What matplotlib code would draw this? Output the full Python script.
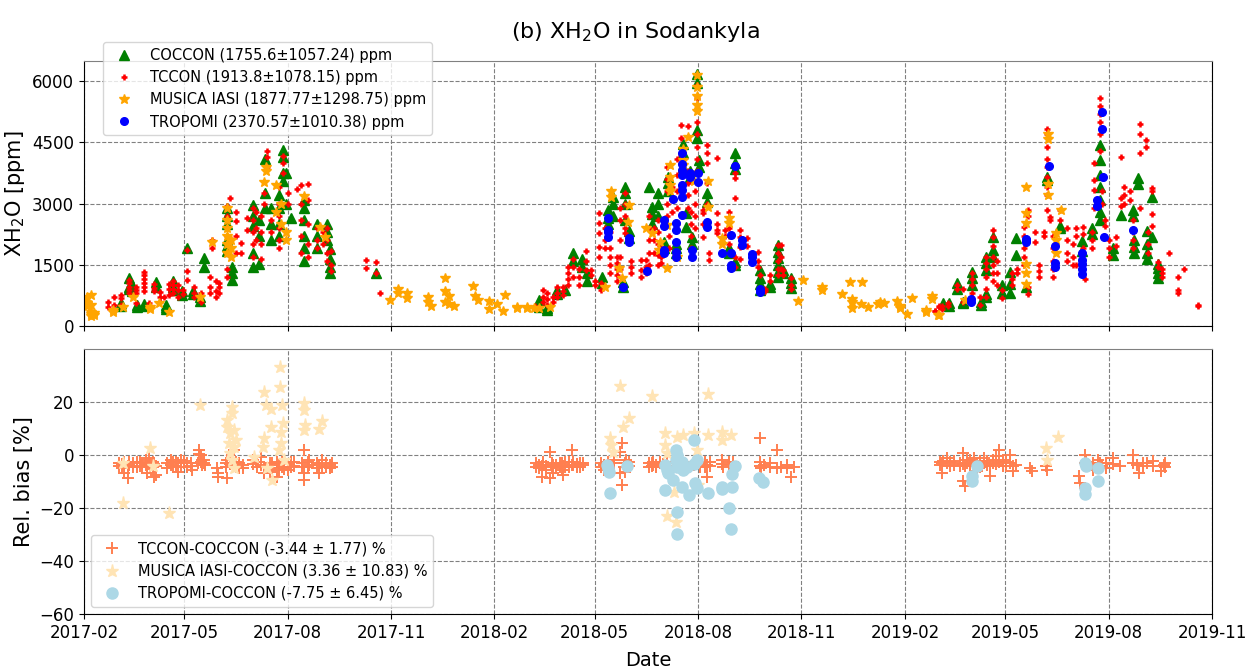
import matplotlib
matplotlib.use('Agg')
import matplotlib.pyplot as plt
import matplotlib.dates as mdates
import pandas as pd

# day numbers are counted from the start of the record
start = pd.Timestamp('2017-02-01')

# --- top panel: XH2O [ppm] ---
coccon_day = [33, 40, 43, 47, 53, 64, 73, 79, 87, 92, 97, 103, 107, 127, 132, 150, 156, 161,
              166, 173, 177, 180, 184, 196, 207, 216, 219, 260,
              405, 412, 421, 428, 435, 443, 447, 461, 466, 470, 479, 481, 485, 502, 505, 510,
              516, 519, 526, 533, 535, 539, 541, 545, 547, 554, 574, 579, 601, 610, 617, 622, 629,
              764, 769, 776, 782, 790, 798, 802, 808, 816, 823, 829, 838, 856, 868, 887, 896,
              903, 915, 922, 933, 934, 937, 945, 950, 955]
coccon_xh2o = [[500, 560], [1170, 960, 900], [1000, 850], [470, 520], [500, 540], [1090, 960],
               [470, 420, 520], [1110, 950, 880], [860, 760], [1910], [860, 780], [720, 620],
               [1660, 1450], [2900, 2700, 2500, 2100, 1950, 1850], [1450, 1300, 1130],
               [2960, 2700, 2450, 1800, 1450], [2600, 2200, 1530], [4100, 3250, 2900],
               [2900, 2500, 2100], [3200, 2900, 2500, 2200], [4310, 4150, 3750, 3550], [3740, 3000],
               [2640], [3080, 2900, 2600, 2200, 1900, 1600], [2500, 2200, 1900], [2500, 2300, 2100],
               [1880, 1650, 1450, 1300], [1300],
               [640, 470], [390, 450], [880, 780], [880], [1790, 1600], [1640, 1450], [1300, 1100],
               [1190, 1050], [2840, 2650, 2500], [3170, 3000, 2700], [1070, 960],
               [3410, 3250, 3000, 2600], [2340, 2150], [3410], [2920, 2750, 2500], [3250, 3000, 2700],
               [2050, 1900], [3660, 3500, 3300], [1920, 2000, 1800], [4470, 4250, 3900], [2760, 2430],
               [3800, 3650], [2180, 2000], [6190, 5950, 4800, 4600], [4070, 3900], [3250, 3050],
               [1900, 1800], [4240, 3990, 3850, 1570, 1500], [1370, 1170, 1040, 880], [1040, 960],
               [1980, 1820, 1660, 1500, 1330, 1200], [1370, 1300], [1170, 1050, 920],
               [560], [560, 500], [1045, 900], [600, 560], [1330, 1170, 1000], [520, 600],
               [1700, 1550, 1380, 780, 700], [2190, 1860, 1700], [1000, 810], [1330, 1040, 820],
               [2150, 1740], [960], [3660, 3580], [2460, 2400], [2080, 1850], [2260, 2400],
               [4440, 4080, 3700, 3400, 3100, 2800, 2600], [1910, 1740], [2730], [2840, 2700],
               [2110, 1940, 1800], [3640, 3490], [2330, 2000, 1790, 1650], [3170, 2190],
               [1530, 1420, 1300, 1170]]

tccon_day = [21, 27, 33, 40, 46, 53, 58, 62, 68, 71, 76, 79, 84, 88, 92, 98, 104, 112, 114, 117,
             120, 127, 130, 135, 140, 145, 150, 153, 157, 160, 163, 166, 173, 177, 181, 189, 193,
             199, 207, 213, 216, 220, 251, 260, 263,
             401, 408, 412, 417, 421, 426, 430, 435, 440, 446, 451, 454, 458, 460, 463, 468, 474,
             477, 481, 486, 495, 500, 502, 507, 510, 513, 518, 520, 523, 527, 531, 537, 540, 543,
             545, 550, 554, 556, 563, 570, 574, 579, 583, 590, 599, 601, 606, 610, 617, 620, 622, 629,
             757, 760, 763, 768, 776, 782, 790, 797, 802, 808, 812, 816, 825, 830, 836, 839, 846,
             849, 854, 856, 859, 862, 868, 874, 879, 882, 888, 890, 896, 898, 903, 905, 908, 911,
             918, 922, 925, 930, 933, 939, 944, 946, 950, 955, 959, 965, 973, 978, 991]
tccon_xh2o = [[600, 470], [720, 510], [770, 680, 520], [1130, 1050, 960, 880, 800],
              [960, 880, 800, 560], [1330, 1250, 1150, 1050, 950, 850], [560, 480], [1040, 930, 850],
              [840, 720, 600], [720], [1040, 900, 750], [1100, 1000, 900, 800], [1000, 870, 720],
              [880, 780], [1860, 1340, 1130], [950, 800, 700], [800, 600], [1200, 950, 800],
              [2100, 1900], [1100, 850, 700], [1050, 950, 800],
              [2950, 2700, 2400, 2200, 2000, 1800, 1400, 1200], [3130], [2800, 2570, 2200, 1800],
              [2040, 1800], [2640, 2350], [2900, 2600, 2300, 2000, 1700], [2800, 2400, 2100],
              [2700, 2300, 2000, 1650], [3250, 3000], [4300, 4150, 3900], [2600, 2300],
              [3400, 3000, 2700, 2400, 2100, 1900], [4180, 4000, 3750], [3250, 3000], [3370],
              [3450, 3000, 2600, 2200, 1800], [3490, 3100, 2500, 2000, 1700], [2400, 2100, 1900],
              [2300, 2000], [2400, 2100, 1800, 1600], [1850, 1500, 1350], [1620, 1420], [1570, 1300],
              [810],
              [500, 430], [880, 720, 600], [800, 650, 520], [720, 600], [960, 800, 700],
              [960, 850, 750], [1450, 1300, 1150, 1000], [1640, 1450, 1200], [1400, 1200, 1000],
              [1840, 1600, 1370], [1370, 1250], [1100, 1000], [2760, 2515, 2270, 1940, 1700],
              [880, 1050], [2400, 2100, 1900], [2300, 1900, 1700, 1500, 1300],
              [1700, 1550, 1400, 1250, 1100], [2900, 2600, 2100, 1700, 1400],
              [3250, 3000, 2700, 2400, 2270], [1600, 1450, 1300], [1620, 1370, 1200],
              [1620, 1450, 1300], [2700, 2400, 2100, 1800, 1500], [2400, 2100, 1800],
              [2600, 2300, 2000, 1750, 1500], [1900, 1700, 1550], [3900, 3600, 3300, 3000, 2700],
              [2200, 1900], [3400, 3100, 2800], [4100, 3700, 3300, 2900, 2500],
              [4920, 4600, 4200, 3800, 3400], [4900, 3800, 3500, 3200, 2900],
              [2800, 2500, 2200, 1900, 1700], [3300, 3000, 2700, 2400],
              [5900, 5600, 5300, 5000, 4700, 4400, 4100, 3800], [2850, 2760, 2500, 2190],
              [4430, 4230, 3990, 3500, 3000], [1780, 1630], [4110, 2760, 2500, 2350, 2270],
              [2350, 2200], [2800, 2400, 2200, 2000, 1800], [3740, 3620, 3130, 1690, 1450],
              [2360, 2190, 1940, 1650], [2150, 1950], [1810, 1600, 1450], [1250, 900, 840],
              [910, 850], [1250, 1100], [1980, 1800, 1600, 1400, 1250], [1980, 1700, 1400],
              [1370, 1250], [1170, 1000, 900],
              [370, 360], [460, 490], [500, 420], [560, 480], [1000, 900], [900, 600],
              [1300, 1150, 1000, 800], [700, 520], [1700, 1550, 1400, 1200, 900, 700],
              [2350, 2190, 1950, 1700, 1500, 1300, 1100], [1600, 1300, 1000], [890, 690],
              [1300, 1150, 1000], [1400, 1300], [2420, 2200, 1900, 1700, 1500],
              [2840, 2700, 960, 790], [2300, 2050], [1500, 1350, 1200], [2300, 2200],
              [4840, 4710, 4390, 4100, 3900, 3660, 3410, 3210, 2840], [2680, 2600],
              [2200, 1900, 1600, 1400, 1200], [2600, 2840], [2400, 2100, 1800, 1600],
              [2000, 1700, 1500], [2400, 2200, 1500], [2430, 2250, 1920, 1510], [1160],
              [2300, 2100, 1900], [3340, 3590, 4000, 2900], [5580, 5400, 5200, 5010, 4700, 4300],
              [3300, 3000], [2600, 2450], [2100, 1900, 1700], [2170, 1950], [4150, 3140, 2950],
              [3400, 3200, 3000], [3300, 3100], [2600, 2300, 2100, 1900], [4960, 4710, 4230, 2900],
              [4560, 4400], [2300, 2000, 1800], [3390, 3300, 2740, 2460], [1570, 1450],
              [1400, 1300, 1200], [1790], [1190, 880, 800], [1390], [490, 520]]

iasi_day = [3, 6, 9, 26, 35, 44, 59, 67, 76, 103, 114, 127, 131, 160, 162, 171, 175, 180, 196,
            210, 214, 272, 279, 287, 306, 309, 321, 325, 329, 346, 348, 350, 360, 367, 373, 374,
            385, 394, 400, 405, 414, 463, 469, 476, 478, 484, 485, 500, 505, 511, 512, 518, 521,
            527, 533, 537, 542, 545, 555, 567, 574, 635, 639, 656, 674, 681, 683, 691, 692, 697,
            706, 708, 711, 723, 726, 732, 736, 749, 754, 759, 760, 783, 838, 857, 864, 869]
iasi_xh2o = [[560, 720, 480], [350, 300, 250, 520, 760], [280, 330], [350, 400], [465], [710],
             [465, 420], [563], [343], [710], [2060], [2900, 2600, 2400, 2200, 2000, 1800],
             [2100, 1900, 1700], [3530], [3900, 3800], [3450, 2800], [3000, 2500], [2100, 2300],
             [3180], [2430], [2180], [640], [900, 810], [810, 680], [710, 580], [490],
             [1175, 860, 580], [735, 530], [500], [980], [735], [640], [610, 420], [550], [365],
             [770], [470, 440], [470, 440], [440], [440], [470], [960], [3300, 3170], [1420],
             [1170], [2560], [2960], [2400], [2270], [1870], [2050], [2480, 1420],
             [3950, 3660, 3460, 3300], [1700], [4350, 4070, 3950], [4630], [3550],
             [6160, 5870, 5630, 5430, 5260], [3550, 2920], [2150, 2020], [2640, 2520], [620],
             [1130], [960, 880], [780], [1090], [660, 580, 450], [530], [1090], [470], [530],
             [590], [560], [620], [500, 450], [300], [690], [390, 350], [730, 660], [280], [270],
             [630], [3410, 2760, 2520, 1530, 1290, 1040], [4710, 4590, 3490, 3210],
             [2280, 2120, 1780], [2840]]

tropomi_day = [466, 479, 485, 501, 516, 524, 526, 532, 539, 541, 546, 554, 567, 575, 579, 585,
               594, 601, 789, 838, 858, 863, 887, 901, 905, 906, 907, 933]
tropomi_xh2o = [[2650, 2310, 2350, 2180], [960], [2150, 2060], [1355], [2600, 2440, 1860, 1780],
                [3120], [2520, 2350, 2050, 1820, 1700],
                [4230, 3980, 3820, 3700, 3450, 3340, 3170, 2720], [3750, 3660], [1860, 1700],
                [3750, 3540], [2560, 2430], [1780], [2230, 1780, 1490, 1420], [3930], [2110, 1990],
                [1760, 1680, 1580], [840, 910], [600, 650], [2140, 2100, 2050], [3930],
                [1960, 1550, 1450], [1800, 1630, 1510, 1390, 1270], [3100, 2940], [4840, 5250],
                [3660], [2190], [2350]]

# --- bottom panel: relative bias [%] ---
tccon_bias_day = [31, 34, 36, 39, 40, 44, 47, 50, 52, 55, 56, 58, 59, 61, 62, 64, 74, 77, 79, 82,
                  84, 86, 89, 92, 95, 96, 101, 102, 104, 105, 107, 108, 118, 119, 126, 127, 130,
                  133, 135, 138, 141, 150, 154, 157, 160, 165, 167, 172, 173, 176, 178, 181, 184,
                  187, 194, 196, 199, 200, 207, 209, 212, 215, 219, 221,
                  402, 405, 407, 408, 411, 414, 416, 417, 420, 423, 425, 426, 428, 431, 434, 435,
                  438, 441, 444, 460, 462, 466, 471, 477, 478, 480, 481, 482, 485, 502, 505, 506,
                  509, 512, 515, 518, 524, 527, 530, 542, 548, 552, 554, 557, 567, 568, 574, 577,
                  601, 602, 605, 610, 616, 620, 625, 629, 631,
                  761, 763, 764, 767, 770, 774, 779, 782, 783, 785, 788, 791, 794, 797, 800, 803,
                  806, 808, 811, 814, 817, 820, 823, 826, 829, 841, 843, 855, 856, 885, 886, 890,
                  891, 894, 897, 902, 903, 905, 909, 915, 921, 933, 936, 938, 942, 945, 951, 958,
                  960, 961]
tccon_bias = [[-4.2, -3.0], [-5.0, -3.5], [-6.9, -2.8], [-8.8, -4.0], [-3.8, -2.5], [-3.1, -4.5],
              [-4.4, -2.6], [-2.5, -4.0], [-4.4, -3.0], [-1.9, -3.6], [-6.9, -4.0], [-1.3, -3.5],
              [-3.1, -4.6], [-4.4, -2.6], [-8.2, -3.5], [-7.5, -4.2], [-3.1, -4.8], [-1.9, -3.6],
              [-4.4, -2.8], [-2.5, -4.0], [-6.3, -3.2], [-1.9, -4.4], [-3.1, -2.4], [-4.4, -3.0],
              [-3.1, -4.2], [-5.7], [-3.1], [1.9, 0.5], [0.0, -2.5], [-1.9, -3.8], [-3.1, -2.0],
              [-3.8], [-5.0], [-6.9, -8.2], [-3.1, -4.4], [-8.8, -2.0], [-1.9, -3.5], [1.9, -4.0],
              [-4.4, -2.8], [-3.1, -5.0], [-5.0, -3.6], [-1.9, -3.4], [-4.4, -2.5], [-0.6, -3.8],
              [-6.9, -4.6], [-6.3, -3.0], [-3.1, -4.8], [-8.2, -2.5], [-5.7, -3.6], [-4.4, -2.6],
              [-3.1, -5.2], [-5.7, -3.4], [-4.4, -2.8], [-2.5, -4.0], [-3.1, -4.5], [1.9, -6.9, -9.4],
              [-4.4, -2.8], [-1.9, -3.6], [-3.1, -5.0], [-6.9, -3.8], [-1.9, -4.4], [-4.4, -3.0],
              [-3.8, -5.0], [-4.4, -3.2],
              [-4.4, -3.0], [-5.0, -3.6], [-8.2, -4.2], [-3.8, -2.8], [-5.7, -4.0], [1.3, -8.8],
              [-4.4, -3.0], [-6.9, -3.6], [-3.8, -5.0], [-3.1, -4.4], [-5.7, -3.2], [-7.5, -4.0],
              [-4.4, -2.6], [-2.5, -4.6], [1.9, -3.8], [-3.8, -2.8], [-4.4, -3.4], [-3.1, -4.6],
              [-3.8, -2.9], [-3.1, -4.5], [-5.7, -3.6], [-2.5, -4.0], [-1.9, -3.0], [1.3, -6.9],
              [4.4, -11.3], [-4.4], [-6.3, -3.0], [-1.9], [-2.5, -4.0], [-4.4, -3.2], [-3.1, -4.2],
              [-2.5, -3.6], [-3.8, -4.6], [-3.1, -2.6], [-4.4, -3.4], [-2.5, -4.0], [-3.1, -4.4],
              [-4.4, -2.8], [-1.9, -3.6], [-2.5, -3.8], [-3.1, -4.4], [-4.4, -2.8], [-8.2, -3.6],
              [-2.5, -4.0], [-1.9, -3.4], [-4.4], [-3.8, -2.8], [-2.5],
              [6.3, -2.5, -4.0], [-5.0], [-3.8], [-4.4, -3.0], [1.9, -5.0], [-4.4], [-5.0, -3.6],
              [-8.2], [-4.4],
              [-3.6, -2.8], [-6.8, -3.2], [-2.4], [-1.1, -3.0], [-4.3, -2.6], [-3.6, -2.2],
              [-4.3, -3.0], [0.8, -9.9, -3.4], [-11.8, -4.0], [-3.0, -2.0], [-1.8, -3.6],
              [-1.1, -4.0, -2.6], [-6.2, -3.0], [-2.4, -4.4], [-1.1, -3.2], [-3.6, -2.2],
              [-8.1, -4.0], [-3.0, -1.8], [-0.5, -3.5], [2.0, -2.6], [-1.8, -4.0], [-4.3, -2.8],
              [0.1, -3.0], [-6.2, -4.2], [-3.6], [-4.9], [-6.2], [-4.3], [-5.5], [-8.1], [-10.6],
              [0.1, -3.0], [-4.3, -2.6], [-3.6], [-5.5, -3.0], [-1.8], [-3.0], [-4.3], [-4.9, -3.0],
              [-1.1, -3.4], [-4.3], [0.1, -3.0], [-3.6], [-6.8], [-4.3, -3.0], [-3.0], [-2.4, -4.0],
              [-6.2], [-3.6], [-3.0, -4.4]]

iasi_bias_day = [35, 59, 61, 76, 103, 127, 129, 130, 132, 133, 135, 151, 159, 160, 162, 163, 166,
                 167, 173, 174, 175, 176, 177, 178, 196, 197, 209, 212,
                 468, 469, 470, 477, 479, 485, 505, 517, 518, 525, 526, 527, 533, 542, 545, 546,
                 555, 567, 575, 855, 856, 866]
iasi_bias = [[-18.0, -3.1], [2.5], [-4.2], [-22.0], [18.9], [13.2, 10.7], [4.4], [8.2, 0.6],
             [18.2, 15.7, -1.9], [9.4, 3.1, -5.0], [5.7], [-0.6], [2.9], [23.9, 6.3], [18.9],
             [-5.0], [17.2, 10.7], [-9.4], [1.9], [25.8, 33.1], [8.8, 4.4], [18.9], [11.9], [-1.9],
             [19.5, 17.0, 9.4], [11.3], [10.0], [13.0],
             [6.3], [3.8], [1.3], [26.2], [10.4], [13.8], [22.3], [8.2, 3.8], [0.6, -23.0],
             [-13.8], [-25.4], [6.9], [7.5], [8.2], [1.9], [-11.3], [23.0, 7.5], [8.8, 5.7], [7.5],
             [2.6], [-1.8], [6.8]]

tropomi_bias_day = [465, 466, 467, 468, 483, 517, 518, 519, 524, 526, 527, 530, 532, 533, 536,
                    538, 542, 543, 545, 555, 567, 574, 575, 576, 579, 600, 604,
                    790, 794, 890, 891, 902]
tropomi_bias = [[-3.8], [-5.0], [-6.3], [-14.2], [-4.0], [-3.8, -13.2], [-5.7], [-6.9], [-9.4],
                [1.9, -2.0], [0.0, -21.6, -29.9, -4.5], [-3.1], [-12.0, -2.5], [-5.7], [-4.4],
                [-15.1], [5.7, -3.5], [-10.7], [-12.6, -1.9], [-14.2], [-12.0, -12.8], [-20.1],
                [-27.9], [-12.2, -7.3], [-4.0], [-8.8], [-10.3],
                [-8.0, -9.9], [-4.0], [-3.0, -12.5, -14.6], [-4.3], [-4.9, -9.9]]

labels_top = ['COCCON (1755.6±1057.24) ppm', 'TCCON (1913.8±1078.15) ppm',
              'MUSICA IASI (1877.77±1298.75) ppm', 'TROPOMI (2370.57±1010.38) ppm']
labels_bottom = ['TCCON-COCCON (-3.44 ± 1.77) %', 'MUSICA IASI-COCCON (3.36 ± 10.83) %',
                 'TROPOMI-COCCON (-7.75 ± 6.45) %']


def expand(days, groups):
    """Turn (day, [values]) groups into flat date/value lists."""
    x, y = [], []
    for d, vals in zip(days, groups):
        for v in vals:
            x.append(d)
            y.append(v)
    return start + pd.to_timedelta(x, unit='D'), y


fig = plt.figure(figsize=(12.51, 6.71), dpi=100)
ax1 = fig.add_axes([0.0671, 0.5142, 0.9017, 0.3950])
ax2 = fig.add_axes([0.0671, 0.0849, 0.9017, 0.3950], sharex=ax1)

ax1.plot(*expand(coccon_day, coccon_xh2o), '^', color='green', ms=6.5, ls='none', label=labels_top[0])
ax1.plot(*expand(tccon_day, tccon_xh2o), '+', color='red', ms=5, mew=1.8, ls='none', label=labels_top[1])
ax1.plot(*expand(iasi_day, iasi_xh2o), '*', color='orange', ms=7, ls='none', label=labels_top[2])
ax1.plot(*expand(tropomi_day, tropomi_xh2o), 'o', color='blue', ms=5.5, ls='none', label=labels_top[3])

ax2.plot(*expand(tccon_bias_day, tccon_bias), '+', color='coral', ms=9, mew=1.4, ls='none', label=labels_bottom[0])
ax2.plot(*expand(iasi_bias_day, iasi_bias), '*', color='moccasin', ms=9.5, ls='none', label=labels_bottom[1])
ax2.plot(*expand(tropomi_bias_day, tropomi_bias), 'o', color='lightblue', ms=8, ls='none', label=labels_bottom[2])

ax1.set_ylim(0, 6500)
ax1.set_yticks([0, 1500, 3000, 4500, 6000])
ax1.set_ylabel('XH$_2$O [ppm]', fontsize=15)
ax2.set_ylim(-60, 40)
ax2.set_yticks([-60, -40, -20, 0, 20])
ax2.set_ylabel('Rel. bias [%]', fontsize=15)
ax2.set_xlabel('Date', fontsize=14, labelpad=7)

ax2.set_xlim(pd.Timestamp('2017-02-01'), pd.Timestamp('2019-11-01'))
ax2.xaxis.set_major_locator(mdates.MonthLocator(bymonth=[2, 5, 8, 11]))
ax2.xaxis.set_major_formatter(mdates.DateFormatter('%Y-%m'))
plt.setp(ax1.get_xticklabels(), visible=False)

for ax in (ax1, ax2):
    ax.grid(True, linestyle='--', color='gray', linewidth=0.8)
    ax.tick_params(labelsize=12)
    ax.spines['top'].set_color('0.5')

ax1.legend(loc='upper left', bbox_to_anchor=(0.017, 1.072), borderaxespad=0, fontsize=10.5)
ax2.legend(loc='lower left', fontsize=10.5)

fig.suptitle('(b) XH$_2$O in Sodankyla', fontsize=16, x=0.508, y=0.97)
fig.savefig('out.png', dpi=100)
